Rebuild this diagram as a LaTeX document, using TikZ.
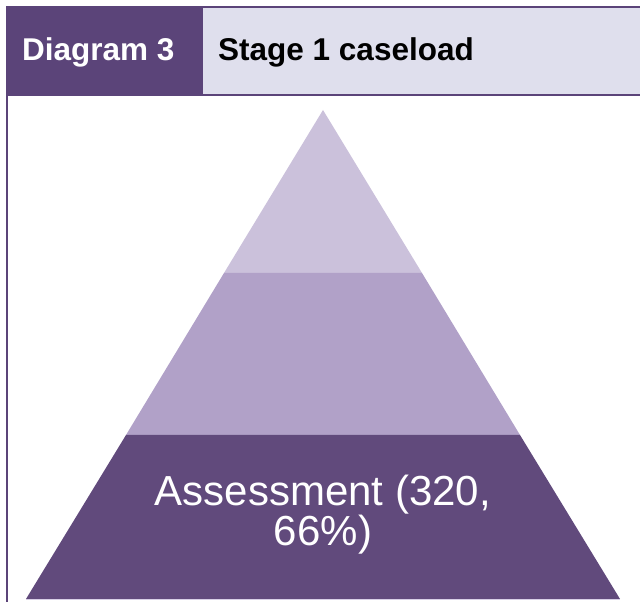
\documentclass[tikz,border=0pt]{standalone}
\usepackage{fontspec}
\setmainfont{Liberation Sans}
\definecolor{hdrdark}{HTML}{5B4479}
\definecolor{hdrlight}{HTML}{DFDFED}
\definecolor{pyrbase}{HTML}{614A7C}
\definecolor{pyrmid}{HTML}{B1A1C8}
\definecolor{pyrtop}{HTML}{CBC1DB}
\definecolor{pyredge}{HTML}{D8CFE6}
\begin{document}
\begin{tikzpicture}[x=1pt,y=1pt,
  headtext/.style={anchor=base west,inner sep=0pt,font=\fontsize{31.5}{36}\selectfont\bfseries},
  rule/.style={draw=hdrdark,line width=2.2pt}]
\useasboundingbox (0,0) rectangle (640,605);
% header
\fill[hdrdark] (6,605-6) rectangle (203,605-96);
\fill[hdrlight] (203,605-8) rectangle (640,605-94);
\draw[rule] (6,605-7) -- (640,605-7);
\draw[rule] (6,605-95) -- (640,605-95);
\draw[rule] (7,605-95) -- (7,605-602);
\node[headtext,text=white] (diag) at (22,605-61) {Diagram 3};
\node[headtext,text=black] (title) at (218,605-61) {Stage 1 caseload};
% pyramid
\coordinate (apex) at (323,605-110);
\fill[pyrtop] (apex) -- (422,605-273) -- (224,605-273) -- cycle;
\fill[pyrmid] (224,605-273) -- (422,605-273) -- (520,605-435) -- (126,605-435) -- cycle;
\fill[pyrbase] (126,605-435) -- (520,605-435) -- (620,605-599) -- (26,605-599) -- cycle;
\draw[pyredge,line width=1pt] (26,605-600) -- (620,605-600);
\node[anchor=base,inner sep=0pt,align=center,text=white,
  font=\fontsize{42}{37.5}\selectfont] (assess) at (323,605-545.5)
  {Assessment (320,\\66\%)};
\end{tikzpicture}
\end{document}
